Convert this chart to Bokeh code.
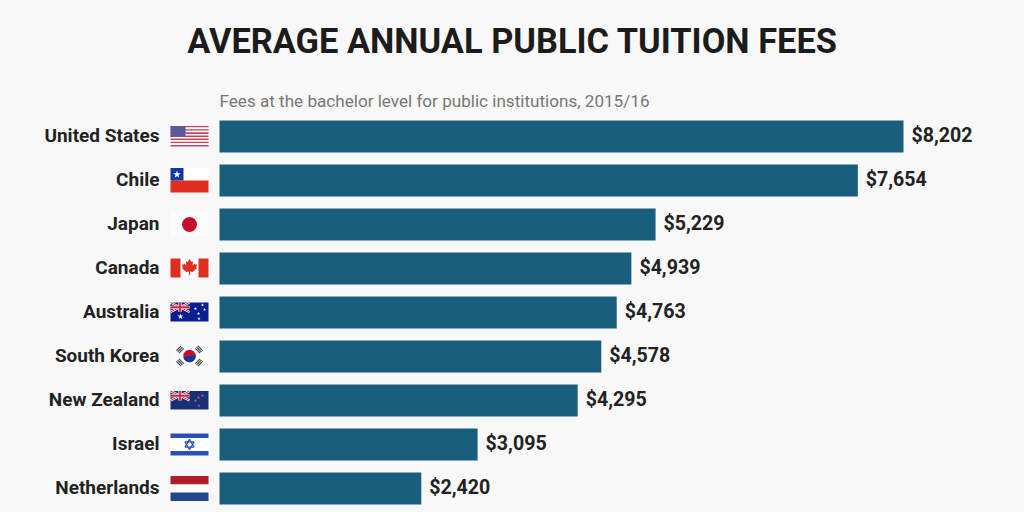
import numpy as np
from bokeh.plotting import figure
from bokeh.models import ColumnDataSource, Range1d
from bokeh.core.properties import value
from bokeh.embed import file_html
from bokeh.resources import INLINE

countries = ["United States", "Chile", "Japan", "Canada", "Australia", "South Korea", "New Zealand", "Israel", "Netherlands"]
fees = [8202, 7654, 5229, 4939, 4763, 4578, 4295, 3095, 2420]
title_text = "AVERAGE ANNUAL PUBLIC TUITION FEES"
subtitle_text = "Fees at the bachelor level for public institutions, 2015/16"

BG = "#f8f8f8"
BAR = "#1a5e7d"
INK = "#222222"
PX_PER_USD = 684 / 8202

p = figure(width=1024, height=512, output_backend="svg", toolbar_location=None,
           x_range=Range1d(-219 / PX_PER_USD, 805 / PX_PER_USD),
           y_range=Range1d((512 - 136) / 44, -136 / 44),
           x_axis_location=None, y_axis_location=None,
           min_border=0, min_border_left=0, min_border_right=0, min_border_top=0, min_border_bottom=0,
           background_fill_color=BG, border_fill_color=BG, outline_line_color=None)
p.grid.visible = False
# page-pixel ranges for decoration
p.extra_x_ranges["px"] = Range1d(0, 1024)
p.extra_y_ranges["px"] = Range1d(512, 0)

src = ColumnDataSource(dict(rank=list(range(len(countries))), fee=fees, country=countries,
                            zero=[0] * len(fees),
                            label=[f"${v:,}" for v in fees],
                            lx=[159] * len(fees)))
p.hbar(y="rank", left="zero", right="fee", height=32 / 44, source=src, color=BAR, line_color=None)
p.text(x="fee", y="rank", text="label", source=src, x_offset=8, y_offset=-1, text_align="left", text_baseline="middle",
       text_font=value("Roboto"), text_font_style="bold", text_font_size="19.6px", text_color=INK)
p.text(x="lx", y="rank", text="country", source=src, x_range_name="px", y_offset=-1, text_align="right", text_baseline="middle",
       text_font=value("Roboto"), text_font_style="bold", text_font_size="19px", text_color=INK)

kw = dict(x_range_name="px", y_range_name="px")
p.text(x=[512], y=[40], text=[title_text], text_align="center", text_baseline="middle",
       text_font=value("Roboto"), text_font_style="bold", text_font_size="34.4px", text_color="#1c1c1c", **kw)
p.text(x=[219], y=[100], text=[subtitle_text], text_align="left", text_baseline="middle",
       text_font=value("Roboto"), text_font_size="17.1px", text_color="#777777", **kw)


def box(x0, x1, y0, y1, c):
    p.quad(left=[x0], right=[x1], top=[y0], bottom=[y1], color=c, line_color=None, **kw)


def star(x, y, s, c="#ffffff"):
    p.scatter(x=[x], y=[y], size=s, marker="star", color=c, line_color=None, **kw)


def jack(x0, y0, w, h):
    xm, ym = x0 + w / 2, y0 + h / 2
    for a, b in (((x0, y0), (x0 + w, y0 + h)), ((x0, y0 + h), (x0 + w, y0))):
        p.line([a[0], b[0]], [a[1], b[1]], line_color="#ffffff", line_width=2.2, **kw)
        p.line([a[0], b[0]], [a[1], b[1]], line_color="#d0243c", line_width=0.9, **kw)
    p.line([xm, xm], [y0, y0 + h], line_color="#ffffff", line_width=3.2, **kw)
    p.line([x0, x0 + w], [ym, ym], line_color="#ffffff", line_width=3.2, **kw)
    p.line([xm, xm], [y0, y0 + h], line_color="#d0243c", line_width=1.8, **kw)
    p.line([x0, x0 + w], [ym, ym], line_color="#d0243c", line_width=1.8, **kw)


# United States
X0, X1 = 170, 208
for i in range(13):
    t = 125.5 + i * 20.5 / 13
    box(X0, X1, t, t + 20.5 / 13, "#c9445a" if i % 2 == 0 else "#ffffff")
box(X0, 185, 125.5, 136.5, "#5a5a96")

# Chile
box(X0, X1, 167.5, 180, "#ffffff")
box(X0, X1, 180, 192, "#dc2f1e")
box(X0, 183, 167.5, 180, "#1238a8")
star(176.5, 174, 8)

# Japan
box(X0, X1, 211, 236, "#fcfcfc")
p.circle(x=[189], y=[224], radius=7.5, color="#c8102e", line_color=None, **kw)

# Canada
box(X0, X1, 258, 277, "#ffffff")
box(X0, 180, 258, 277, "#dc2f1e")
box(198, X1, 258, 277, "#dc2f1e")
lx = [0, 2, 3.4, 3.2, 5, 5.6, 7.5, 6.8, 7.5, 3, 0.6, 0.6, -0.6, -0.6, -3, -7.5, -6.8, -7.5, -5.6, -5, -3.2, -3.4, -2]
ly = [-8, -5, -5.8, -1.5, -3.6, -2.4, -2.6, 0.4, 1.2, 5, 4.6, 8, 8, 4.6, 5, 1.2, 0.4, -2.6, -2.4, -3.6, -1.5, -5.8, -5]
p.patch([189 + v for v in lx], [266.5 + v for v in ly], color="#dc2f1e", line_color=None, **kw)

# Australia
box(X0, X1, 302, 321, "#0a1f8f")
jack(X0, 302, 19, 9.5)
star(180, 316, 6)
for sx, sy in ((198, 313), (202, 304.5), (198.5, 318), (204, 309), (195, 308)):
    star(sx, sy, 3.5)

# South Korea
box(171, 208, 343, 367.5, "#fbfbfb")
p.circle(x=[189], y=[355.5], radius=6.2, color="#c8102e", line_color=None, **kw)
th = np.linspace(np.radians(-10), np.radians(170), 30)
p.patch(list(189 + 6.2 * np.cos(th)), list(355.5 + 6.2 * np.sin(th)), color="#12389a", line_color=None, **kw)
for sx, sy in ((-1, -1), (1, -1), (-1, 1), (1, 1)):
    cx, cy = 189 + sx * 9.5, 355.5 + sy * 6.5
    for off in (-1.8, 0, 1.8):
        mx, my = cx + sx * off * 0.7, cy + sy * off * 0.7
        dx, dy = sy * 2.4, -sx * 2.4
        p.line([mx - dx, mx + dx], [my - dy, my + dy], line_color="#444444", line_width=1.2, **kw)

# New Zealand
box(X0, X1, 390.5, 409, "#1a2f7a")
jack(X0, 390.5, 19, 9.5)
for sx, sy in ((198, 397), (202, 395), (198.5, 405), (195, 400)):
    star(sx, sy, 3.5, "#c85a6a")

# Israel
box(X0, X1, 433, 455, "#ffffff")
box(X0, X1, 433, 437.5, "#2a50b8")
box(X0, X1, 450.5, 455, "#2a50b8")
p.scatter(x=[189], y=[444], size=9, marker="triangle", fill_color=None, line_color="#2a50b8", line_width=1.2, **kw)
p.scatter(x=[189], y=[444], size=9, marker="inverted_triangle", fill_color=None, line_color="#2a50b8", line_width=1.2, **kw)

# Netherlands
box(X0, X1, 475.5, 484, "#ae1c28")
box(X0, X1, 484, 492, "#ffffff")
box(X0, X1, 492, 500.5, "#21468b")

html = file_html(p, INLINE)
html = html.replace("<body>", f'<body style="background:{BG}">')
open("out.html", "w").write(html)
